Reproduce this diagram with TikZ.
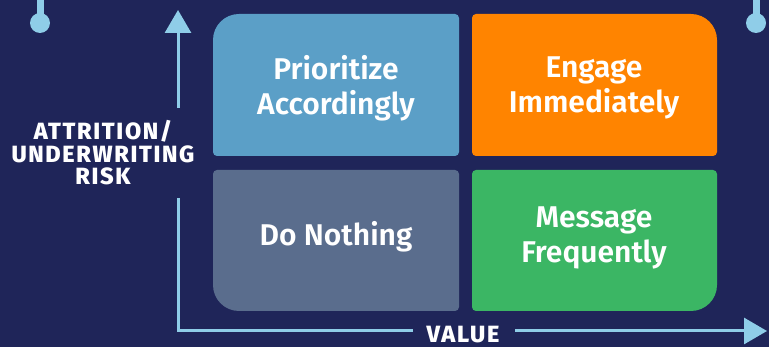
\documentclass[tikz,border=0pt]{standalone}
\usepackage{xcolor}
\usepackage{fontspec}
\setmainfont{Fira Sans}
\newfontfamily\quadfont{Fira Sans}[UprightFont={* SemiBold}]
\newfontfamily\labelfont{Fira Sans}[UprightFont={* ExtraBold}, LetterSpace=7]
\usetikzlibrary{arrows.meta}

\definecolor{navy}{HTML}{1F2559}
\definecolor{sky}{HTML}{8FCDE8}
\definecolor{prio}{HTML}{5B9FC7}
\definecolor{engage}{HTML}{FF8400}
\definecolor{nothing}{HTML}{5A6D8D}
\definecolor{message}{HTML}{3BB664}

\begin{document}
\begin{tikzpicture}[x=1pt, y=-1pt]
    % Define the styles
    \tikzstyle{axis} = [draw=sky, line width=3pt]
    \tikzstyle{tip} = [-{Triangle[width=26pt, length=23pt]}]
    \tikzstyle{quad} = [text=white, align=center, font=\quadfont\fontsize{30}{35}\selectfont]
    \tikzstyle{axislabel} = [text=white, align=center, font=\labelfont\fontsize{23.5}{22.5}\selectfont]

    \useasboundingbox[fill=navy] (0,0) rectangle (769,347);

    % The four boxes, each with one wide corner pointing outwards
    \fill[prio, rounded corners=4pt] (213,85) [rounded corners=26pt] -- (213,14)
        [rounded corners=4pt] -- (459,14) -- (459,156) -- (213,156) -- cycle;
    \fill[engage, rounded corners=4pt] (472,85) -- (472,14) [rounded corners=26pt] -- (717,14)
        [rounded corners=4pt] -- (717,156) -- (472,156) -- cycle;
    \fill[nothing, rounded corners=4pt] (213,240) -- (213,170) -- (459,170) -- (459,311)
        [rounded corners=26pt] -- (213,311) [rounded corners=4pt] -- cycle;
    \fill[message, rounded corners=4pt] (472,240) -- (472,170) -- (717,170)
        [rounded corners=26pt] -- (717,311) [rounded corners=4pt] -- (472,311) -- cycle;

    % Place the nodes
    \node[quad] (prioritize) at (336,88) {Prioritize\\Accordingly};
    \node[quad] (engage) at (594,88) {Engage\\Immediately};
    \node[quad] (donothing) at (336,237) {Do Nothing};
    \node[quad] (frequently) at (594,238) {Message\\Frequently};

    \node[axislabel] (risk) at (103,153) {ATTRITION/\\UNDERWRITING\\RISK};
    \node[axislabel, anchor=base] (value) at (463,343) {VALUE};

    % Axes
    \coordinate (origin) at (178,331);
    \coordinate (ytop) at (178,10);
    \coordinate (xend) at (767,331);
    \coordinate (ycut) at (178,108);
    \coordinate (ycut2) at (178,198);
    \coordinate (xcut) at (413,331);
    \coordinate (xcut2) at (515,331);

    \path[axis, tip] (ycut) -- (ytop);
    \path[axis] (ycut2) -- (origin) -- (xcut);
    \path[axis, tip] (xcut2) -- (xend);

    % Pins at the top corners
    \coordinate (pinl) at (40,23);
    \coordinate (pinr) at (756,23);
    \draw[sky, line width=7pt] (pinl) -- (pinl |- 0,0);
    \draw[sky, line width=7pt] (pinr) -- (pinr |- 0,0);
    \fill[sky] (pinl) circle (10);
    \fill[sky] (pinr) circle (10);
\end{tikzpicture}
\end{document}
